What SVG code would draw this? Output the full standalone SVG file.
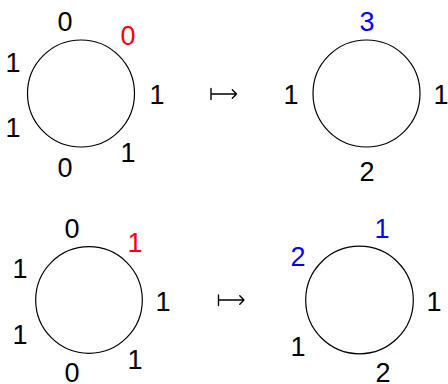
<svg xmlns="http://www.w3.org/2000/svg" width="448" height="384" viewBox="0 0 448 384">
<style>
.c{fill:none;stroke:#000;stroke-width:1.2}
text{font-family:"Liberation Sans",Arial,sans-serif;font-size:27px;text-anchor:middle;fill:#000}
.r{fill:#ff0000}
.b{fill:#0000ff}
.a{fill:none;stroke:#000;stroke-width:1.4;stroke-linecap:round;stroke-linejoin:round}
</style>
<rect width="448" height="384" fill="#fff"/>
<g id="ring1">
<circle class="c" cx="81" cy="93.5" r="53.5"/>
<text x="65" y="31">0</text>
<text class="r" x="128" y="45">0</text>
<text x="13" y="72">1</text>
<text x="157" y="104">1</text>
<text x="13" y="137">1</text>
<text x="128" y="162">1</text>
<text x="65" y="177">0</text>
</g>
<g id="ring2">
<circle class="c" cx="366.5" cy="93.5" r="53.5"/>
<text class="b" x="367" y="31">3</text>
<text x="291" y="104">1</text>
<text x="441" y="104">1</text>
<text x="367" y="181">2</text>
</g>
<g id="ring3">
<circle class="c" cx="89" cy="300" r="53.3"/>
<text x="72" y="237.5">0</text>
<text class="r" x="135" y="251.5">1</text>
<text x="20" y="278">1</text>
<text x="163" y="310.5">1</text>
<text x="20" y="343.5">1</text>
<text x="135" y="369">1</text>
<text x="72" y="382">0</text>
</g>
<g id="ring4">
<circle class="c" cx="359.5" cy="300" r="53.8"/>
<text class="b" x="382" y="238">1</text>
<text class="b" x="298" y="266">2</text>
<text x="434" y="310.5">1</text>
<text x="298" y="355.5">1</text>
<text x="383" y="381.5">2</text>
</g>
<g id="connectors">
<path class="a" d="M211 88.5V99.5M211 94H236.5M232.3 89.8L236.5 94L232.3 98.2"/>
<path class="a" d="M218.5 295V305.5M218.5 300H244M239.8 295.8L244 300L239.8 304.2"/>
</g>
</svg>
